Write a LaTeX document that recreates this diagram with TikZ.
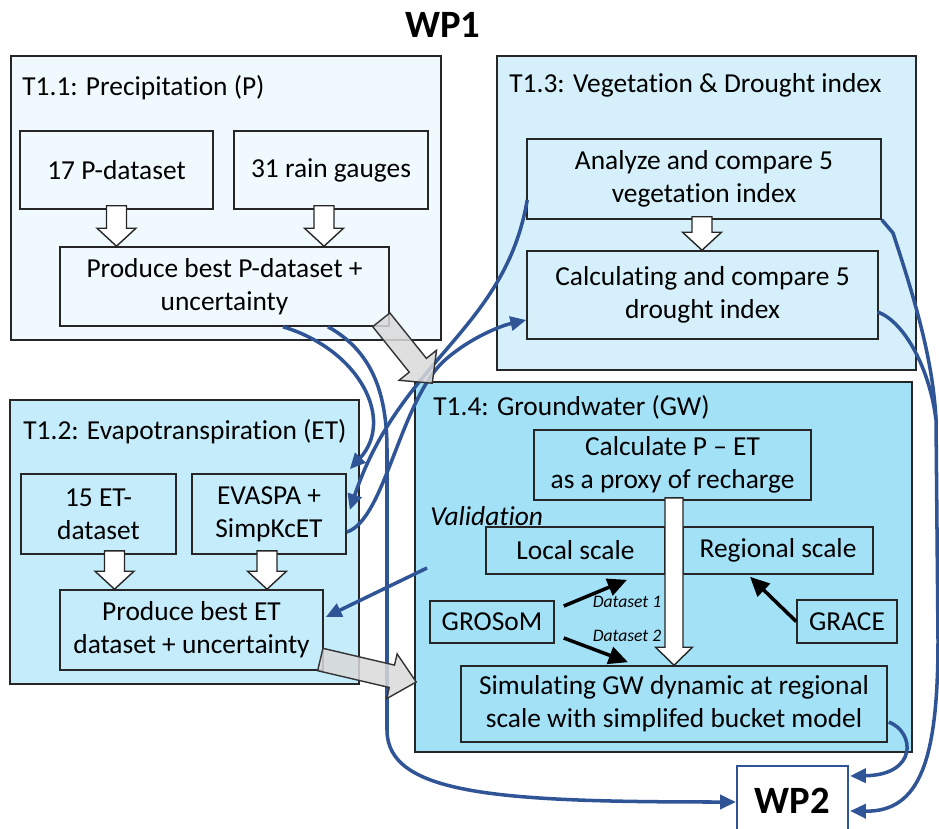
\documentclass[tikz,border=0pt]{standalone}
\usepackage{fontspec}
\setmainfont{Carlito}[Ligatures=NoCommon, Contextuals=NoAlternate, RawFeature={-liga;-clig;-calt}]
\usetikzlibrary{arrows.meta, calc}

\definecolor{tonebg}{RGB}{240, 250, 254}
\definecolor{ttwobg}{RGB}{197, 236, 251}
\definecolor{tthreebg}{RGB}{213, 240, 250}
\definecolor{tfourbg}{RGB}{163, 225, 247}
\definecolor{wpblue}{RGB}{47, 85, 151}

\newcommand{\txtsz}{\fontsize{15.6}{18.9}\selectfont}

% block arrow: [style]{from}{to}{half shaft}{half head}{head length}, sizes in px
\newcommand{\blockarrow}[6][]{%
  \coordinate (hb) at ($(#3)!#6*0.02cm!(#2)$);
  \draw[#1] ($(#2)!#4*0.02cm!90:(#3)$) -- ($(hb)!#4*0.02cm!90:(#3)$)
    -- ($(hb)!#5*0.02cm!90:(#3)$) -- (#3) -- ($(hb)!#5*0.02cm!-90:(#3)$)
    -- ($(hb)!#4*0.02cm!-90:(#3)$) -- ($(#2)!#4*0.02cm!-90:(#3)$) -- cycle;
}

\tikzset{
  wh/.style 2 args={minimum width=#1*0.02cm, minimum height=#2*0.02cm},
  taskbox/.style={draw=black!85, line width=0.9pt, inner sep=0pt},
  itembox/.style={draw=black!85, line width=0.9pt, inner sep=0pt, align=center, font=\txtsz},
  tasktitle/.style={anchor=west, inner sep=0pt, font=\txtsz},
  flow/.style={wpblue, line width=2pt, -{Triangle[length=9pt,width=8pt]}},
  flowline/.style={wpblue, line width=2pt},
  blackarr/.style={black, line width=2pt, -{Triangle[length=11pt,width=10pt]}},
  whitearr/.style={fill=white, draw=black!85, line width=0.8pt, line join=miter},
  grayarr/.style={fill=gray!30, fill opacity=0.85, draw=black!80, line width=0.8pt, line join=miter},
  dslabel/.style={inner sep=0pt, font=\fontsize{10}{12}\selectfont\itshape},
}

\begin{document}
\begin{tikzpicture}[x=0.02cm, y=-0.02cm]
\useasboundingbox (0,0) rectangle (939,828);

% 标题
\node[font=\fontsize{22}{26}\selectfont\bfseries] (wp1) at (443,25) {WP1};

% ============================================================
% T1.1 precipitation
% ============================================================
\node[taskbox, fill=tonebg, wh={430}{284}] (t11) at (226,198) {};
\node[tasktitle] (t11t) at (22,88) {T1.1: Precipitation (P)};
\node[itembox, wh={193}{78}] (p17) at (116.5,170) {17 P-dataset};
\node[itembox, wh={194}{78}] (rain) at (331,170) {31 rain gauges};
\node[itembox, wh={329}{79}] (bestP) at (224.5,286.5) {Produce best P-dataset +\\uncertainty};

\coordinate (pa1) at ($(p17.south)+(0,-4)$);
\coordinate (pa2) at (p17.south |- bestP.north);
\coordinate (pb1) at ($(rain.south)+(-7,-4)$);
\coordinate (pb2) at (pb1 |- bestP.north);
\blockarrow[whitearr]{pa1}{pa2}{10}{19.5}{18}
\blockarrow[whitearr]{pb1}{pb2}{10}{19.5}{18}

% ============================================================
% T1.3 vegetation & drought
% ============================================================
\node[taskbox, fill=tthreebg, wh={419}{314}] (t13) at (706.5,213) {};
\node[tasktitle] (t13t) at (509,85) {T1.3: Vegetation \& Drought index};
\node[itembox, wh={354}{80}] (veg) at (704,179) {Analyze and compare 5\\vegetation index};
\node[itembox, wh={351}{88}] (drought) at (702.5,295) {Calculating and compare 5\\drought index};

\coordinate (va1) at ($(veg.south)+(-2,-3)$);
\coordinate (va2) at (va1 |- drought.north);
\blockarrow[whitearr]{va1}{va2}{10}{19.5}{18}

% ============================================================
% T1.2 evapotranspiration
% ============================================================
\node[taskbox, fill=ttwobg, wh={349}{284}] (t12) at (184.5,542) {};
\node[tasktitle] (t12t) at (23,432) {T1.2: Evapotranspiration (ET)};
\node[itembox, wh={155}{80}] (et15) at (98.5,514) {15 ET-\\dataset};
\node[itembox, wh={154}{80}] (evaspa) at (269,514) {EVASPA +\\SimpKcET};
\node[itembox, wh={263}{80}] (bestET) at (191.5,630) {Produce best ET\\dataset + uncertainty};

\coordinate (ea1) at ($(et15.south)+(16,-4)$);
\coordinate (ea2) at (ea1 |- bestET.north);
\coordinate (eb1) at ($(evaspa.south)+(-2,-4)$);
\coordinate (eb2) at (eb1 |- bestET.north);
\blockarrow[whitearr]{ea1}{ea2}{10}{19.5}{18}
\blockarrow[whitearr]{eb1}{eb2}{10}{19.5}{18}

% ============================================================
% T1.4 groundwater
% ============================================================
\node[taskbox, fill=tfourbg, wh={497}{370}] (t14) at (663.5,567) {};
\node[tasktitle] (t14t) at (433,407) {T1.4: Groundwater (GW)};
\node[itembox, wh={277}{70}] (calc) at (672.5,465) {Calculate P -- ET\\as a proxy of recharge};
\node[tasktitle, font=\txtsz\itshape] (valid) at (430,516) {Validation};
\node[itembox, wh={179}{47}] (local) at (575.5,550.5) {Local scale};
\node[itembox, wh={190}{47}] (regional) at (778,550.5) {Regional scale};
\node[itembox, wh={124}{42}] (grosom) at (492,622) {GROSoM};
\node[itembox, wh={100}{43}] (grace) at (847,621.5) {GRACE};
\node[itembox, wh={426}{76}] (sim) at (674,704) {Simulating GW dynamic at regional\\scale with simplifed bucket model};

% 白色大箭头 P-ET -> 模拟
\coordinate (ga1) at ($(calc.south)+(1.5,-3)$);
\coordinate (ga2) at (ga1 |- sim.north);
\blockarrow[whitearr]{ga1}{ga2}{9}{18.5}{18}

% 验证数据
\draw[blackarr] ($(grosom.east)+(9,-16)$) -- ($(local.south)+(51.5,5)$);
\draw[blackarr] ($(grosom.east)+(9,16)$) -- ($(sim.north)+(-46,-3)$);
\draw[blackarr] (grace.west) -- ($(regional.south)+(-28,2)$);
\node[dslabel] (ds1) at (627,602) {Dataset 1};
\node[dslabel] (ds2) at (627,636) {Dataset 2};

% ============================================================
% WP2
% ============================================================
\node[draw=wpblue, line width=1.2pt, fill=white, wh={111}{70},
  font=\fontsize{22}{26}\selectfont\bfseries] (wp2) at (792.5,801) {WP2};

% ============================================================
% 蓝色数据流
% ============================================================
\coordinate (valsrc) at (427,568);
\coordinate (merge) at (936,420);

% P -> EVASPA, P -> WP2
\draw[flow] ($(bestP.south)+(58.5,0)$) .. controls (360,350) and (395,420)
  .. ($(evaspa.north east)+(3,-4)$);
\draw[flow] ($(bestP.south)+(103.5,0)$) .. controls (370,350) and (387,390) .. (387,450)
  -- (387,730) .. controls (387,795) and (500,802) .. ($(wp2.west)+(0,1)$);

% 植被 -> EVASPA, EVASPA -> 干旱
\draw[flow] ($(veg.west)+(1,21)$) .. controls (505,330) and (400,360)
  .. ($(evaspa.east)+(3,-4)$);
\draw[flow] ($(evaspa.east)+(0,18)$) .. controls (385,520) and (400,400) .. (445,360)
  .. controls (470,338) and (500,326) .. ($(drought.west)+(0,25)$);

% 验证 -> ET
\draw[flow] (valsrc) -- ($(bestET.east)+(2,-13)$);

% -> WP2
\draw[flow] ($(sim.east)+(1,18)$) .. controls (915,732) and (918,775)
  .. ($(wp2.north east)+(1,11)$);
\draw[flow] (veg.south east) -- (893,233) .. controls (915,300) and (933,360) .. (merge)
  -- (938,640) .. controls (938,760) and (920,812) .. ($(wp2.north east)+(1,46)$);
\draw[flowline] ($(drought.east)+(-1,17)$) .. controls (905,322) and (930,370) .. (merge);

% ============================================================
% 灰色块箭头
% ============================================================
\coordinate (gp1) at ($(bestP.south east)+(-8.5,-7)$);
\coordinate (gp2) at ($(t14.north west)+(18,2)$);
\blockarrow[grayarr]{gp1}{gp2}{11}{24}{23}
\coordinate (ge1) at ($(bestET.east)+(-3.5,29.5)$);
\coordinate (ge2) at ($(t14.west)+(2,115)$);
\blockarrow[grayarr]{ge1}{ge2}{11.5}{23}{25}

\end{tikzpicture}
\end{document}
